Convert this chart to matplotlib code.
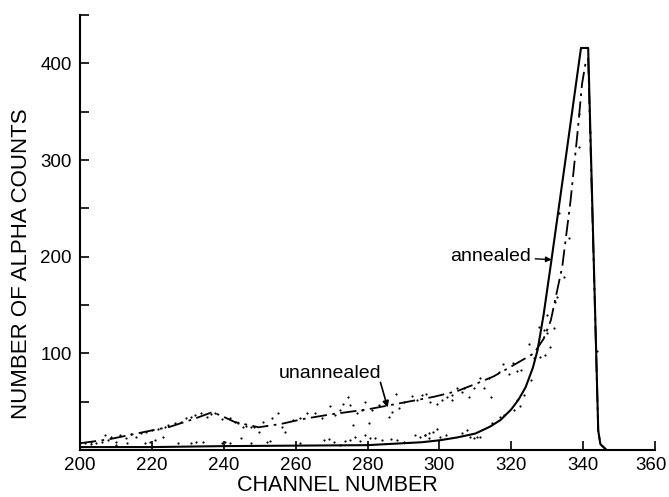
import matplotlib
matplotlib.use('Agg')
import matplotlib.pyplot as plt
import matplotlib.transforms as mtransforms
import numpy as np

plt.rcParams['font.family'] = ['Liberation Sans', 'DejaVu Sans']

# annealed curve (solid)
ann_ch = [200, 220, 240, 260, 280, 290, 295, 300, 305, 310, 314, 317, 320, 322, 324, 326,
          327.3, 329, 331.2, 335, 339.4, 341.4, 344.2, 344.8, 346.5]
ann_cnt = [3, 3, 4, 4.5, 5, 7, 8, 10, 13, 17, 24, 31, 42, 52, 65, 85,
           103, 140, 197, 298, 416, 416, 20, 6, 0]

# unannealed curve (dash-dot)
una_ch = [200, 208, 217, 225, 231.6, 236.7, 239, 243, 249.7, 256, 262, 270, 280, 286.4,
          298.4, 305, 310.5, 315, 319.8, 326.3, 329, 331, 334.2, 336.5, 338.4, 339.7, 340.7,
          341.4, 344.2, 344.8, 346.5]
una_cnt = [7, 11, 18, 24, 32, 39, 36, 29, 23.5, 27, 32, 37, 42, 46.5,
           55, 61, 69, 76, 86, 100, 115, 134, 190, 258, 327, 379, 401,
           405, 20, 6, 0]

# measured points, unannealed
una_pts_x = [200, 201.3, 203.1, 204.5, 206.9, 207.8, 208.7, 210.1, 211, 212.9, 214.3, 215.7,
             217.1, 218.5, 219.9, 221.7, 223.6, 224.5, 226.4, 228.2, 229.6, 231, 231.9, 233.8,
             235.2, 236.4, 237.5, 239.4, 241.7, 243.1, 244, 245.4, 246.3, 247.7,
             248.3, 249.7, 251, 253.4, 255.2, 256.2, 257.1, 259.4, 261.3, 263.1, 265.5, 267.3,
             269.6, 271, 272.4, 273.3, 274.7, 275.2, 276.1, 277.1, 279.4, 278.5, 280.3, 281.2,
             283.1, 285.9, 286.8, 287.9, 288.7, 290.1, 292.4, 293.8, 295.2, 296.4,
             297.5, 299.4, 300.8, 302.1, 303.5, 303.5, 304.9, 306.3, 306.8, 308.2, 309.6, 311.4,
             312.3, 313.7, 314.4, 316.5, 317.7, 319.3, 320.5, 321.6, 322.6, 324.9, 325.6, 326.3,
             327.7, 327.9, 329.5, 329, 330, 330.7, 331.8, 330, 332.3,
             333.2, 336, 338.8, 338.8, 342, 343.9, 334.6, 332.8]
una_pts_y = [7, 7.6, 8.6, 7.6, 15.5, 10.3, 13.8, 8.6, 15.5, 12, 17, 13.8,
             18, 19, 21, 22, 23.5, 26, 27.6, 29, 33, 34, 36, 38,
             34, 37, 38, 32, 33, 29, 27.6, 24, 25, 24,
             24, 19, 29, 33, 38.6, 24, 19, 31, 33, 38, 38, 33,
             45.5, 36, 41, 47.6, 55, 46.5, 26, 38, 50, 41, 27.6, 41,
             46.5, 34, 39.6, 58, 43, 50, 56, 51.7, 57, 58,
             50, 48, 51.7, 55, 57, 52, 64, 60, 64, 55, 64, 74,
             64, 75, 55, 81, 89, 79, 90, 82, 83, 110, 72, 95,
             127.5, 96.5, 98, 124, 120.7, 107, 126, 140, 153,
             245, 219, 314, 348, 329, 102, 179, 158]

# measured points, annealed
ann_pts_x = [203, 206, 210, 213, 218, 219.4, 220.8, 223.1, 227.3, 231, 232.4, 234.3, 239.4,
             240.3, 241.7, 244.9, 247.7, 252, 252.9, 261.3, 267.8, 269.2, 270.6, 272.4, 273.8,
             275.2, 276.6, 278, 279.4, 280.8, 282.2, 284, 286.4, 288.2, 290.1, 293.3, 294.7,
             296.1, 297, 296.1, 297, 298.2, 299.4, 300.3, 301.7, 306.3, 307.7, 308.6, 309.6,
             310.5, 311.4, 314.7, 317, 317.9, 320.7, 321.6, 322.4, 323.5]
ann_pts_y = [6, 8, 5, 7, 7, 8.6, 10.3, 13.8, 7, 7.6, 8.6, 8.6, 7.6,
             8.6, 7, 12, 7, 8.6, 9.6, 7.6, 10.3, 11, 8.6, 5, 9.6,
             10.3, 13.8, 9.6, 15.5, 12, 12, 10.3, 11, 10.3, 8.6, 15.5, 13.8,
             15.5, 12, 15.5, 18, 19, 22, 13.8, 15.5, 18, 20.7, 13.8, 12,
             13.8, 13.8, 28, 34, 36, 41, 51.7, 45.5, 57]

xticks = np.arange(200, 361, 20)
yticks = [100, 200, 300, 400]

fig = plt.figure(figsize=(6.69, 4.97), dpi=100)
ax = fig.add_axes([0.1196, 0.0946, 0.8595, 0.875])

ax.plot(ann_ch, ann_cnt, color='k', linewidth=1.5)
ax.plot(una_ch, una_cnt, color='k', linewidth=1.3, dashes=(9, 3, 1.5, 3))
ax.scatter(una_pts_x, una_pts_y, s=2.5, color='k', linewidths=0)
ax.scatter(ann_pts_x, ann_pts_y, s=2.5, color='k', linewidths=0)

# labels with arrows
ax.annotate('annealed', xy=(331.2, 197), xytext=(303, 200), fontsize=14,
            va='center', ha='left',
            arrowprops=dict(arrowstyle='-|>', color='k', lw=1, shrinkA=1, shrinkB=0,
                            mutation_scale=8))
ax.text(269.5, 79, 'unannealed', fontsize=14, va='center', ha='center')
ax.annotate('', xy=(285.6, 44), xytext=(283.6, 70),
            arrowprops=dict(arrowstyle='-|>', color='k', lw=1.2, shrinkA=0, shrinkB=0,
                            mutation_scale=9))

ax.set_xlim(200, 360)
ax.set_ylim(0, 450)
ax.set_xticks(xticks)
ax.set_yticks(yticks)
ax.set_yticks([50, 150, 250, 350, 450], minor=True)
ax.tick_params(axis='both', direction='in', labelsize=13.5, width=1.2, length=6.5, pad=6)
ax.tick_params(axis='x', pad=5)
ax.tick_params(axis='y', which='minor', direction='in', width=1.2, length=6.5)

# last x label sits a little to the left so it stays inside the picture
fig.canvas.draw()
last = ax.get_xticklabels()[-1]
last.set_transform(last.get_transform() +
                   mtransforms.ScaledTranslation(-0.04, 0, fig.dpi_scale_trans))

for s in ['top', 'right']:
    ax.spines[s].set_visible(False)
for s in ['left', 'bottom']:
    ax.spines[s].set_linewidth(1.5)

ax.set_xlabel('CHANNEL NUMBER', fontsize=15.5, va='baseline')
ax.xaxis.set_label_coords(0.448, -0.094)
ax.set_ylabel('NUMBER OF ALPHA COUNTS', fontsize=16)
ax.yaxis.set_label_coords(-0.083, 0.428)

fig.savefig('out.png', dpi=100)
